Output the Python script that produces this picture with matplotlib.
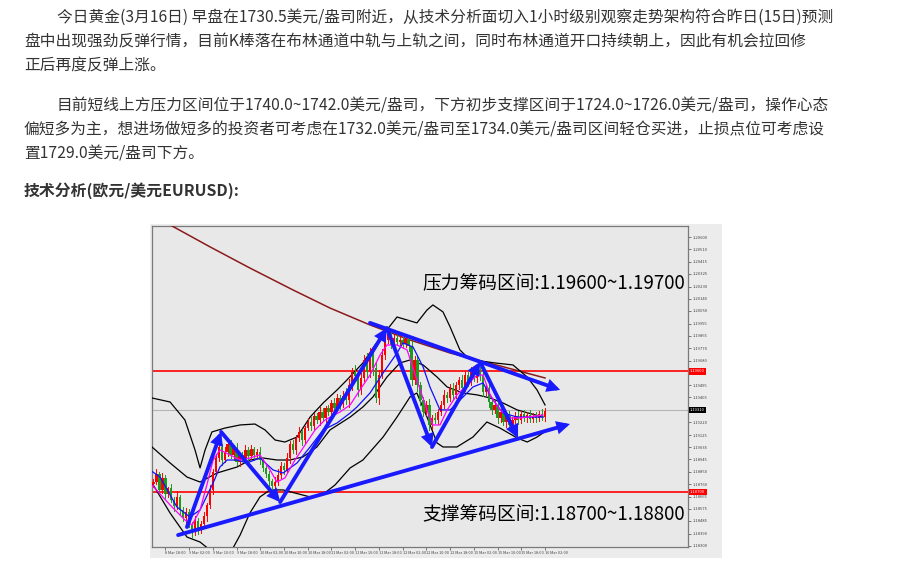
import matplotlib
matplotlib.use('Agg')
import matplotlib.pyplot as plt
from matplotlib.patches import Rectangle, FancyArrowPatch
import matplotlib.transforms as mtransforms

plt.rcParams['font.family'] = ['Noto Sans CJK SC', 'DejaVu Sans']

# ---------------- text of the page ----------------
para_lines = [
    "今日黄金(3月16日) 早盘在1730.5美元/盎司附近，从技术分析面切入1小时级别观察走势架构符合昨日(15日)预测",
    "盘中出现强劲反弹行情，目前K棒落在布林通道中轨与上轨之间，同时布林通道开口持续朝上，因此有机会拉回修",
    "正后再度反弹上涨。",
    "目前短线上方压力区间位于1740.0~1742.0美元/盎司，下方初步支撑区间于1724.0~1726.0美元/盎司，操作心态",
    "偏短多为主，想进场做短多的投资者可考虑在1732.0美元/盎司至1734.0美元/盎司区间轻仓买进，止损点位可考虑设",
    "置1729.0美元/盎司下方。",
]
title_line = "技术分析(欧元/美元EURUSD):"
resist_label = "压力筹码区间:1.19600~1.19700"
support_label = "支撑筹码区间:1.18700~1.18800"

# ---------------- candle data (EURUSD H1) ----------------
first_open = 1.18760
closes = [
    1.18775, 1.18835, 1.18716, 1.18805, 1.18686, 1.18730, 1.18641, 1.18596, 1.18664, 1.18567,
    1.18507, 1.18552, 1.18462, 1.18403, 1.18485, 1.18418, 1.18462, 1.18522, 1.18604, 1.18716,
    1.18850, 1.18954, 1.19036, 1.18939, 1.18999, 1.19058, 1.18977, 1.19028, 1.18924, 1.18977,
    1.18954, 1.19014, 1.18969, 1.19021, 1.18977, 1.18999, 1.18939, 1.18880, 1.18835, 1.18783,
    1.18745, 1.18775, 1.18828, 1.18894, 1.18865, 1.18954, 1.19058, 1.19014, 1.19103, 1.19148,
    1.19088, 1.19177, 1.19222, 1.19192, 1.19267, 1.19237, 1.19297, 1.19252, 1.19326, 1.19297,
    1.19364, 1.19326, 1.19401, 1.19356, 1.19416, 1.19386, 1.19498, 1.19595, 1.19565, 1.19461,
    1.19550, 1.19684, 1.19595, 1.19744, 1.19625, 1.19401, 1.19572, 1.19722, 1.19833, 1.19886,
    1.19796, 1.19848, 1.19818, 1.19833, 1.19803, 1.19841, 1.19789, 1.19535, 1.19684, 1.19498,
    1.19386, 1.19297, 1.19349, 1.19200, 1.19252, 1.19237, 1.19297, 1.19349, 1.19424, 1.19401,
    1.19476, 1.19424, 1.19498, 1.19535, 1.19476, 1.19572, 1.19520, 1.19595, 1.19550, 1.19610,
    1.19572, 1.19446, 1.19476, 1.19371, 1.19312, 1.19349, 1.19252, 1.19297, 1.19222, 1.19267,
    1.19200, 1.19237, 1.19267, 1.19237, 1.19282, 1.19252, 1.19274, 1.19244, 1.19267, 1.19252,
    1.19282, 1.19259, 1.19305,
]
# wick extensions in 1e-5 units
hi_wick = [20, 35, 15, 40, 25, 10, 30, 20, 45, 15, 25, 30, 20, 15, 35, 25, 20, 30, 15, 40,
           25, 30, 45, 20, 35, 25, 30, 20, 40, 15, 25, 35, 20, 30, 15, 25, 40, 20, 30, 25,
           15, 35, 45, 30, 20, 40, 25, 30, 20, 35, 25, 15, 30, 40, 20, 25, 35, 30, 15, 25,
           20, 40, 30, 25, 35, 60, 45, 30, 50, 25, 40, 35, 55, 30, 25, 35, 40, 45, 30, 25,
           20, 30, 25, 35, 20, 30, 25, 40, 30, 35, 25, 20, 30, 45, 25, 35, 20, 30, 40, 25,
           30, 35, 20, 25, 40, 30, 25, 35, 30, 45, 20, 30, 25, 35, 20, 30, 40, 25, 30, 20,
           35, 25, 30, 40, 25, 30, 20, 35, 25, 30, 20, 40, 25]
lo_wick = [25, 15, 30, 20, 35, 25, 15, 40, 20, 30, 25, 35, 20, 45, 25, 30, 20, 15, 35, 25,
           30, 20, 25, 40, 15, 30, 25, 35, 20, 30, 25, 15, 30, 20, 35, 25, 30, 20, 25, 40,
           35, 30, 20, 25, 30, 15, 35, 25, 30, 20, 40, 25, 15, 30, 25, 20, 35, 25, 30, 20,
           25, 30, 20, 35, 25, 30, 55, 40, 35, 45, 30, 25, 40, 35, 50, 30, 45, 25, 30, 20,
           25, 30, 20, 25, 30, 20, 35, 40, 30, 45, 35, 30, 25, 40, 30, 25, 30, 20, 25, 30,
           20, 35, 25, 30, 20, 25, 30, 20, 25, 30, 35, 30, 25, 40, 30, 25, 35, 30, 25, 35,
           30, 20, 25, 30, 20, 25, 30, 20, 25, 30, 25, 20, 30]

# ---------------- indicator lines (bar index, price) ----------------
ma_long_x = [2.2, 5.6, 19.1, 32.5, 47.0, 59.5, 73.0, 86.5, 100.0, 116.8, 132.0]
ma_long_y = [1.20734, 1.20690, 1.20526, 1.20369, 1.20206, 1.20071, 1.19945, 1.19833, 1.19736, 1.19640, 1.19550]

bb_up_x = [-0.5, 5.6, 10.6, 14.0, 15.7, 17.4, 19.7, 24.1, 29.2, 34.2, 37.6, 41.0, 44.3, 48.4, 52.8, 57.2,
           61.9, 65.2, 70.6, 74.7, 78.7, 82.1, 85.5, 88.8, 92.2, 94.2, 97.6, 100.0, 103.3, 105.7, 110.1,
           115.1, 121.2, 126.0, 129.3, 132.0]
bb_up_y = [1.19401, 1.19371, 1.19237, 1.19014, 1.18880, 1.19014, 1.19148, 1.19177, 1.19200, 1.19207,
           1.19163, 1.19088, 1.19073, 1.19110, 1.19259, 1.19364, 1.19461, 1.19535, 1.19662, 1.19796,
           1.19908, 1.20004, 1.19982, 1.19960, 1.20056, 1.20094, 1.20042, 1.19930, 1.19759, 1.19707,
           1.19677, 1.19662, 1.19647, 1.19557, 1.19461, 1.19349]

bb_mid_x = [-0.5, 5.6, 11.3, 15.7, 21.4, 28.2, 32.5, 36.9, 41.6, 46.0, 50.4, 55.1, 59.5, 66.3, 70.6,
            74.0, 78.7, 83.1, 86.5, 90.9, 95.6, 99.0, 104.4, 109.1, 113.5, 117.8, 122.6, 131.3]
bb_mid_y = [1.19036, 1.18917, 1.18812, 1.18775, 1.18842, 1.18887, 1.18939, 1.18954, 1.18939, 1.18939,
            1.18962, 1.19036, 1.19163, 1.19259, 1.19334, 1.19409, 1.19557, 1.19662, 1.19684, 1.19647,
            1.19557, 1.19483, 1.19438, 1.19424, 1.19401, 1.19364, 1.19312, 1.19259]

bb_lo_x = [-0.5, 5.6, 11.3, 15.7, 19.1, 23.1, 26.8, 29.2, 32.5, 35.9, 39.3, 43.7, 47.7, 52.8, 56.8,
           61.2, 66.3, 70.6, 77.4, 82.1, 86.5, 88.8, 92.2, 95.6, 97.6, 102.3, 107.7, 112.4, 116.8,
           122.6, 126.0, 129.3, 131.3]
bb_lo_y = [1.18768, 1.18544, 1.18365, 1.18328, 1.18268, 1.18216, 1.18283, 1.18380, 1.18544, 1.18664,
           1.18716, 1.18716, 1.18693, 1.18664, 1.18678, 1.18753, 1.18880, 1.18939, 1.19110, 1.19259,
           1.19409, 1.19438, 1.19259, 1.19066, 1.19036, 1.19036, 1.19110, 1.19222, 1.19177, 1.19103,
           1.19073, 1.19110, 1.19140]

ma_blue_x = [-1.2, 2.2, 7.9, 12.3, 15.7, 20.1, 22.4, 24.8, 28.2, 31.5, 35.9, 40.3, 43.7, 48.4, 52.8,
             57.2, 61.9, 66.3, 68.6, 73.0, 77.4, 82.1, 84.1, 87.5, 90.9, 93.2, 96.6, 100.0, 104.4,
             107.7, 111.1, 114.5, 117.8, 122.6, 131.3]
ma_blue_y = [1.18865, 1.18812, 1.18589, 1.18514, 1.18567, 1.18768, 1.18887, 1.18939, 1.18939, 1.18917,
             1.18954, 1.18865, 1.18842, 1.18917, 1.19036, 1.19163, 1.19215, 1.19289, 1.19334, 1.19438,
             1.19587, 1.19736, 1.19811, 1.19781, 1.19632, 1.19483, 1.19312, 1.19312, 1.19409, 1.19483,
             1.19513, 1.19386, 1.19289, 1.19259, 1.19259]

ma_mag_x = [-0.5, 5.6, 10.6, 13.0, 15.7, 18.0, 20.1, 22.4, 25.8, 29.2, 32.5, 35.9, 39.3, 41.6, 44.3,
            47.7, 51.1, 54.5, 57.8, 62.9, 66.3, 69.6, 73.0, 76.4, 78.7, 82.1, 85.5, 88.8, 92.2, 94.2,
            96.6, 99.0, 102.3, 105.7, 109.1, 111.1, 113.5, 116.8, 120.2, 123.6, 131.3]
ma_mag_y = [1.18753, 1.18604, 1.18492, 1.18455, 1.18567, 1.18753, 1.18939, 1.19014, 1.18977, 1.18939,
            1.18954, 1.18977, 1.18865, 1.18775, 1.18805, 1.18939, 1.19051, 1.19163, 1.19237, 1.19297,
            1.19349, 1.19461, 1.19572, 1.19722, 1.19796, 1.19796, 1.19759, 1.19535, 1.19312, 1.19200,
            1.19200, 1.19312, 1.19424, 1.19498, 1.19572, 1.19572, 1.19424, 1.19312, 1.19252, 1.19252,
            1.19274]

# hand-drawn zigzag arrows and trend lines
zig_x = [11.3, 22.8, 42.7, 78.7, 93.9, 110.1, 122.9]
zig_y = [1.18440, 1.19148, 1.18626, 1.19922, 1.19036, 1.19669, 1.19103]
support_line_x = [8.3, 140.4]
support_line_y = [1.18380, 1.19207]
resist_line_x = [73.0, 137.1]
resist_line_y = [1.19960, 1.19461]

resist_level = 1.19600
support_level = 1.18700
last_price = 1.19310

y_ticks = [1.20600, 1.20510, 1.20415, 1.20325, 1.20230, 1.20140, 1.20050, 1.19955, 1.19865,
           1.19770, 1.19680, 1.19495, 1.19405, 1.19220, 1.19125, 1.19035, 1.18945,
           1.18850, 1.18760, 1.18665, 1.18575, 1.18485, 1.18390, 1.18300]
x_tick_pos = [4, 12, 20, 28, 36, 44, 52, 60, 68, 76, 84, 92, 100, 108, 116, 124, 132]
x_tick_lab = ["8 Mar 18:00", "9 Mar 02:00", "9 Mar 10:00", "9 Mar 18:00", "10 Mar 02:00",
              "10 Mar 10:00", "10 Mar 18:00", "11 Mar 02:00", "11 Mar 10:00", "11 Mar 18:00",
              "12 Mar 02:00", "12 Mar 10:00", "12 Mar 18:00", "15 Mar 02:00", "15 Mar 10:00",
              "15 Mar 18:00", "16 Mar 02:00"]

# ---------------- figure ----------------
W, H = 900, 564
fig = plt.figure(figsize=(9, 5.64), dpi=100)
fig.patch.set_facecolor('white')

text_color = '#333333'
line_y = [17, 42, 66, 106, 130, 154]
line_x = [57, 24, 24, 57, 24, 24]
for t, yy, xx in zip(para_lines, line_y, line_x):
    fig.text(xx / W, 1 - yy / H, t, fontsize=11.3, color=text_color, va='center', ha='left')
fig.text(24 / W, 1 - 191 / H, title_line, fontsize=11.4, color=text_color, va='center',
         ha='left', fontweight='bold')

# chart picture background
bg = Rectangle((150 / W, 1 - 558 / H), (722 - 150) / W, (558 - 224) / H,
               transform=fig.transFigure, facecolor='#ececec', edgecolor='none', zorder=-5)
fig.patches.append(bg)

ax = fig.add_axes([152 / W, 1 - 547 / H, (688 - 152) / W, (547 - 226) / H])
ax.set_zorder(3)
ax.set_facecolor('#e8e8e8')
ax.set_xlim(-0.5, 180.2)
ax.set_ylim(1.18291, 1.20682)
for s in ax.spines.values():
    s.set_color('#7a7a7a')
    s.set_linewidth(0.9)

# horizontal levels
ax.axhline(resist_level, color='#ff0000', lw=1.2, zorder=2)
ax.axhline(support_level, color='#ff0000', lw=1.2, zorder=2)
ax.axhline(last_price, color='#b4b4b4', lw=0.8, zorder=1)

# indicators
ax.plot(ma_long_x, ma_long_y, color='#8b1a1a', lw=1.1, zorder=3)
for xs, ys in ((bb_up_x, bb_up_y), (bb_mid_x, bb_mid_y), (bb_lo_x, bb_lo_y)):
    ax.plot(xs, ys, color='black', lw=0.9, zorder=3)

# candles
opens = [first_open] + closes[:-1]
for i, (o, c) in enumerate(zip(opens, closes)):
    col = '#ff0000' if c >= o else '#1e9a1e'
    hi = max(o, c) + hi_wick[i] * 1e-5
    lo = min(o, c) - lo_wick[i] * 1e-5
    ax.plot([i, i], [lo, hi], color=col, lw=0.7, zorder=4)
    h = abs(c - o)
    if h < 0.00003:
        h = 0.00003
    ax.bar(i, h, bottom=min(o, c), width=0.78, color=col, edgecolor='none', zorder=4)

ax.plot(ma_blue_x, ma_blue_y, color='#1010ff', lw=0.9, zorder=5)
ax.plot(ma_mag_x, ma_mag_y, color='#ff00ff', lw=0.9, zorder=5)

# arrows
arrow_col = '#1a1aff'
def arrow(x0, y0, x1, y1):
    a = FancyArrowPatch((x0, y0), (x1, y1), arrowstyle='-|>', mutation_scale=13,
                        color=arrow_col, lw=2.8, shrinkA=0, shrinkB=0, zorder=7,
                        joinstyle='miter')
    ax.add_patch(a)

for k in range(len(zig_x) - 1):
    arrow(zig_x[k], zig_y[k], zig_x[k + 1], zig_y[k + 1])
arrow(support_line_x[0], support_line_y[0], support_line_x[1], support_line_y[1])
arrow(resist_line_x[0], resist_line_y[0], resist_line_x[1], resist_line_y[1])

# zone labels
ax.text(90.5, 1.20250, resist_label, fontsize=13.5, color='black', ha='left', va='center', zorder=8)
ax.text(90.5, 1.18529, support_label, fontsize=13.5, color='black', ha='left', va='center', zorder=8)

# axes ticks
ax.yaxis.tick_right()
ax.set_yticks(y_ticks)
ax.set_yticklabels([f"{v:.5f}" for v in y_ticks])
ax.tick_params(axis='y', labelsize=3.0, length=2, pad=1.5, colors='#444444', width=0.5)
ax.set_xticks(x_tick_pos)
ax.set_xticklabels(x_tick_lab)
ax.tick_params(axis='x', labelsize=2.8, length=2, pad=1, colors='#444444', width=0.5)
for lbl in ax.get_xticklabels():
    lbl.set_ha('left')

trans = mtransforms.blended_transform_factory(ax.transAxes, ax.transData)
for val, fc in ((resist_level, '#ff0000'), (support_level, '#ff0000'), (last_price, '#000000')):
    ax.text(1.004, val, f"{val:.5f}", transform=trans, fontsize=3.0, color='white', ha='left',
            va='center', bbox=dict(facecolor=fc, edgecolor='none', pad=0.9), clip_on=False)

fig.savefig('out.png', dpi=100)
